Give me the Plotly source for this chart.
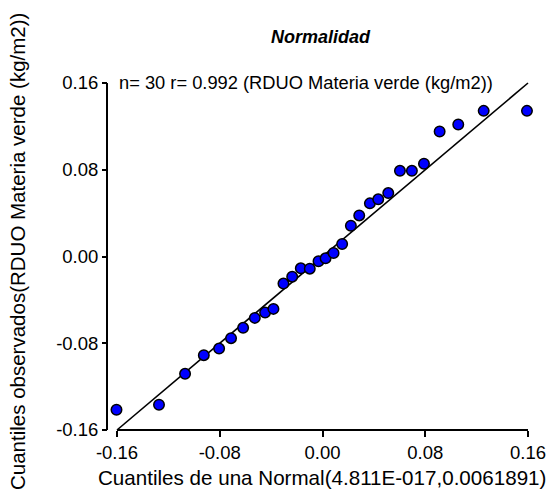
import plotly.graph_objects as go

# Theoretical normal quantiles (x) and observed quantiles (y)
teoricos = [-0.1604, -0.1273, -0.1070, -0.0924, -0.0805, -0.0712, -0.0618, -0.0527,
            -0.0447, -0.0382, -0.0304, -0.0236, -0.0169, -0.0099, -0.0031, 0.0024,
            0.0086, 0.0153, 0.0221, 0.0286, 0.0369, 0.0434, 0.0512, 0.0603,
            0.0696, 0.0790, 0.0912, 0.1057, 0.1255, 0.1592]
observados = [-0.1413, -0.1367, -0.1082, -0.0910, -0.0849, -0.0753, -0.0658, -0.0566,
              -0.0517, -0.0483, -0.0250, -0.0186, -0.0109, -0.0112, -0.0044, -0.0017,
              0.0032, 0.0115, 0.0284, 0.0379, 0.0490, 0.0527, 0.0585, 0.0790,
              0.0790, 0.0855, 0.1153, 0.1217, 0.1343, 0.1343]
linea_x = [-0.16, 0.16]
linea_y = [-0.16, 0.16]
ticks = [-0.16, -0.08, 0.00, 0.08, 0.16]
tick_labels = ["-0.16", "-0.08", "0.00", "0.08", "0.16"]

FONT = "Liberation Sans, Arial, sans-serif"

W, H = 557, 499
PAD = 10   # padding (px) so that the axis lines sit inside the plotting area
GAP = 10   # px gap between y-axis line and the start of the x-axis
L, R, T, B = 107 - PAD, 29 - PAD, 83 - PAD, 69 - PAD
plot_w = W - L - R
plot_h = H - T - B
span = ticks[-1] - ticks[0]
sx = (plot_w - 2 * PAD - GAP) / span
sy = (plot_h - 2 * PAD) / span
x_axis_pos = ticks[0] - GAP / sx           # where the y-axis line sits (data units)
x_range = [x_axis_pos - PAD / sx, ticks[-1] + PAD / sx]
y_range = [ticks[0] - PAD / sy, ticks[-1] + PAD / sy]


def px_x(px):
    return (px - L) / plot_w


def px_y(py):
    return (H - B - py) / plot_h


fig = go.Figure()
# axis lines (Prism style: x-axis detached from the y-axis)
fig.add_trace(go.Scatter(x=[x_axis_pos, x_axis_pos], y=[ticks[0], ticks[-1]], mode="lines",
                         line=dict(color="black", width=2),
                         showlegend=False, hoverinfo="skip"))
fig.add_trace(go.Scatter(x=[ticks[0], ticks[-1]], y=[ticks[0], ticks[0]], mode="lines",
                         line=dict(color="black", width=2),
                         showlegend=False, hoverinfo="skip"))
# reference line
fig.add_trace(go.Scatter(x=linea_x, y=linea_y, mode="lines",
                         line=dict(color="black", width=1.6), showlegend=False,
                         hoverinfo="skip"))
fig.add_trace(go.Scatter(x=teoricos, y=observados, mode="markers", cliponaxis=False,
                         marker=dict(color="#0000FF", size=10.5,
                                     line=dict(color="black", width=1.5)),
                         showlegend=False))

fig.update_layout(
    width=W, height=H,
    margin=dict(l=L, r=R, t=T, b=B),
    paper_bgcolor="white", plot_bgcolor="white",
    font=dict(family=FONT, color="black"),
    xaxis=dict(range=x_range, tickvals=ticks, ticktext=tick_labels,
               anchor="free", position=PAD / plot_h,
               showgrid=False, zeroline=False, showline=False,
               ticks="outside", ticklen=6, tickwidth=1.8, tickcolor="black",
               tickfont=dict(size=18.5)),
    yaxis=dict(range=y_range, tickvals=ticks, ticktext=tick_labels,
               anchor="free", position=PAD / plot_w,
               showgrid=False, zeroline=False, showline=False,
               ticks="outside", ticklen=5, tickwidth=1.8,
               tickcolor="black", tickfont=dict(size=18.5)),
)

fig.add_annotation(text="<b><i>Normalidad</i></b>", xref="paper", yref="paper",
                   x=px_x(321), y=px_y(37), xanchor="center", yanchor="middle",
                   showarrow=False, font=dict(size=18, family=FONT))
fig.add_annotation(text="n= 30 r= 0.992 (RDUO Materia verde (kg/m2))",
                   xref="paper", yref="paper", x=px_x(117), y=px_y(83),
                   xanchor="left", yanchor="middle", showarrow=False,
                   font=dict(size=18.3, family=FONT))
fig.add_annotation(text="Cuantiles de una Normal(4.811E-017,0.0061891)",
                   xref="paper", yref="paper", x=px_x(322), y=px_y(477),
                   xanchor="center", yanchor="middle", showarrow=False,
                   font=dict(size=20.6, family=FONT))
fig.add_annotation(text="Cuantiles observados(RDUO Materia verde (kg/m2))",
                   xref="paper", yref="paper", x=px_x(17), y=px_y(252),
                   xanchor="center", yanchor="middle", textangle=-90, showarrow=False,
                   font=dict(size=20.5, family=FONT))

fig.write_html("out.html")
